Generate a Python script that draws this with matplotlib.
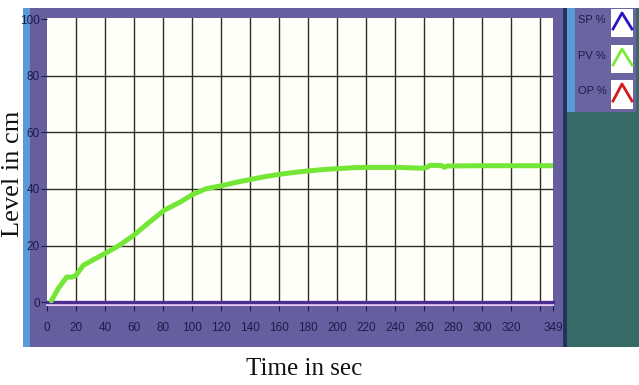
import matplotlib
matplotlib.use("Agg")
import matplotlib.pyplot as plt
from matplotlib.patches import Rectangle
from matplotlib.lines import Line2D

# ---- data ----
time_s = [3, 8, 13.6, 17, 20, 25, 32, 40, 50, 60, 71, 81, 92, 101, 110, 120,
          132, 140, 150, 161, 170, 181, 192, 202, 212, 221, 243, 259, 262,
          264, 272, 274, 276, 300, 325, 349]
pv_level = [0.5, 5, 8.9, 8.8, 9.5, 13, 15, 17.2, 20.1, 23.7, 28.4, 32.5, 35.4,
            38.2, 40.1, 41.1, 42.5, 43.3, 44.3, 45.2, 45.8, 46.4, 46.9, 47.2,
            47.5, 47.6, 47.6, 47.3, 47.6, 48.3, 48.3, 47.6, 48.1, 48.2, 48.2, 48.2]
sp_time = [0, 349]
sp_level = [0, 0]
x_ticks = [0, 20, 40, 60, 80, 100, 120, 140, 160, 180, 200, 220, 240, 260, 280,
           300, 320, 340, 349]
x_tick_labels = ['0', '20', '40', '60', '80', '100', '120', '140', '160', '180',
                 '200', '220', '240', '260', '280', '300', '320', '', '349']
y_ticks = [0, 20, 40, 60, 80, 100]
legend_labels = ['SP %', 'PV %', 'OP %']
legend_colors = ['#2a14c8', '#7ee83a', '#d41a1a']

W, H = 639, 385
fig = plt.figure(figsize=(W / 100, H / 100), dpi=100)
fig.patch.set_facecolor('white')

def rect(x0, y0, x1, y1, color, z=-10):
    r = Rectangle((x0 / W, 1 - y1 / H), (x1 - x0) / W, (y1 - y0) / H,
                  transform=fig.transFigure, facecolor=color, edgecolor='none',
                  zorder=z)
    fig.add_artist(r)

# frame
rect(23, 8, 30, 347, '#5b9ad6')
rect(30, 8, 563, 347, '#675e9f')
rect(563, 8, 567, 347, '#22345a')
rect(567, 8, 639, 347, '#356a66')
rect(567, 8, 575, 112, '#5b9ad6')
rect(575, 8, 636, 112, '#6b64a3')

# axes
ax_l, ax_r, ax_t, ax_b = 47, 553, 18.2, 305
ax = fig.add_axes([ax_l / W, 1 - ax_b / H, (ax_r - ax_l) / W, (ax_b - ax_t) / H])
ax.set_facecolor('#fffff9')
ax.set_xlim(0, 349)
ax.set_ylim(-1, 100.3)

tick_font = ['Liberation Sans', 'DejaVu Sans']
ax.set_xticks(x_ticks)
ax.set_xticklabels(x_tick_labels, family=tick_font, fontsize=8.5, color='#1c1c4a')
ax.set_yticks(y_ticks)
ax.set_yticklabels([str(v) for v in y_ticks], family=tick_font, fontsize=8.5,
                   color='#1c1c4a')
ax.tick_params(axis='x', length=4, width=0.8, color='#1c1c4a', pad=8)
ax.tick_params(axis='y', length=4, width=0.8, color='#1c1c4a', pad=1)

for v in range(20, 341, 20):
    ax.axvline(v, color='#2e2e1e', lw=1.0, zorder=1)
for v in range(20, 100, 20):
    ax.axhline(v, color='#2e2e1e', lw=1.0, zorder=1)

for s in ['left', 'top', 'right']:
    ax.spines[s].set_visible(False)
ax.spines['bottom'].set_color('#e6c8f2')
ax.spines['bottom'].set_linewidth(1.5)

ax.plot(sp_time, sp_level, color='#4b2d8f', lw=2.4, zorder=3, clip_on=False)
ax.plot(time_s, pv_level, color='#74e636', lw=3.6, zorder=4,
        solid_capstyle='round', solid_joinstyle='round')

# axis labels
fig.text(304 / W, 1 - 369 / H, 'Time in sec', family='Liberation Serif',
         fontsize=18, ha='center', va='center', color='#111111')
fig.text(13 / W, 1 - 174 / H, 'Level in cm', family='Liberation Serif',
         fontsize=19, rotation=90, ha='center', va='center', color='#111111')

# legend panel
box_rows = [(9, 37), (45, 73), (80, 109)]
for (y0, y1), lab, col in zip(box_rows, legend_labels, legend_colors):
    rect(611, y0, 633, y1, 'white', z=5)
    fig.text(578 / W, 1 - ((y0 + y1) / 2 - 3) / H, lab, family=tick_font,
             fontsize=8, ha='left', va='center', color='#1c1c4a', zorder=6)
    xs = [613 / W, 622 / W, 632 / W]
    ys = [1 - (y1 - 8) / H, 1 - (y0 + 4) / H, 1 - (y1 - 8) / H]
    fig.add_artist(Line2D(xs, ys, transform=fig.transFigure, color=col, lw=2.0,
                          zorder=7))

fig.savefig('out.png', dpi=100)
